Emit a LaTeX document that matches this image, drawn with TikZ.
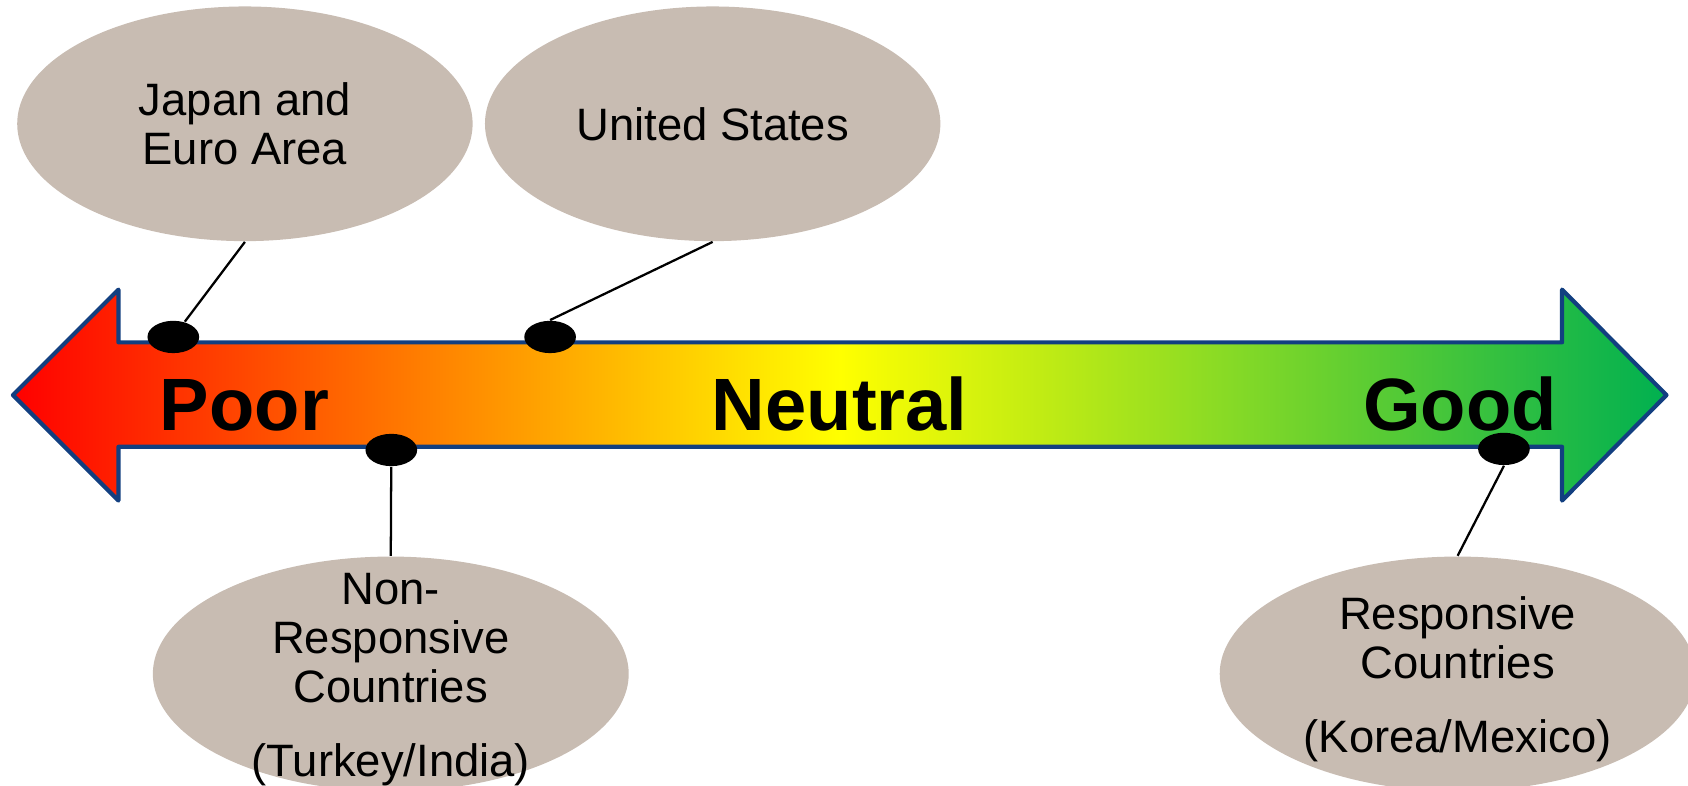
\documentclass[tikz,border=0pt]{standalone}
\usepackage{fontspec}
\setmainfont{Liberation Sans}
\usetikzlibrary{shapes.geometric}
\definecolor{scalegreen}{RGB}{0,176,80}
\definecolor{scaleblue}{RGB}{18,63,128}
\definecolor{bubbletan}{RGB}{200,188,178}

\begin{document}
\begin{tikzpicture}[
    bubble/.style = {ellipse, fill=bubbletan, inner sep=0pt, minimum height=2.18cm},
    bubbletext/.style = {align=center, font=\fontsize{12}{13}\selectfont},
    blob/.style = {ellipse, fill=black, inner sep=0pt, minimum width=0.48cm, minimum height=0.30cm},
    ratinglabel/.style = {anchor=base, font=\fontsize{19.6}{24}\selectfont\bfseries}]
        \useasboundingbox (0, 0) rectangle (15.68, 7.30);
        \clip (0, 0) rectangle (15.68, 7.30);
        \shadedraw[left color=red, right color=scalegreen, middle color=yellow,
            draw=scaleblue, line width=1.1pt, line join=round]
            (0.12, 3.63) -- (1.10, 4.61) -- (1.10, 4.12) -- (14.51, 4.12) -- (14.51, 4.61)
            -- (15.48, 3.63) -- (14.51, 2.65) -- (14.51, 3.15) -- (1.10, 3.15) -- (1.10, 2.65) -- cycle;
        \node[ratinglabel] (poor) at (2.27, 3.30) {Poor};
        \node[ratinglabel] (neutral) at (7.80, 3.30) {Neutral};
        \node[ratinglabel] (good) at (13.56, 3.30) {Good};
        \node[bubble, minimum width=4.23cm] (japan) at (2.275, 6.15) {};
        \node[bubble, minimum width=4.23cm] (us) at (6.62, 6.15) {};
        \node[bubble, minimum width=4.42cm] (nonresp) at (3.63, 1.04) {};
        \node[bubble, minimum width=4.42cm] (resp) at (13.54, 1.04) {};
        \node[bubbletext] (japantext) at (japan) {Japan and\\Euro Area};
        \node[bubbletext] (ustext) at (us) {United States};
        \node[bubbletext] (nonresptext) at ([yshift=-0.05cm]nonresp.center) {Non-\\Responsive\\Countries\\[6.5pt](Turkey/India)};
        \node[bubbletext] (resptext) at ([yshift=-0.05cm]resp.center) {Responsive\\Countries\\[6.5pt](Korea/Mexico)};
        \node[blob] (japandot) at (1.61, 4.17) {};
        \node[blob] (usdot) at (5.11, 4.17) {};
        \node[blob] (nonrespdot) at (3.635, 3.12) {};
        \node[blob] (respdot) at (13.97, 3.13) {};
        \draw[line width=0.6pt] (japan.south) -- (japandot);
        \draw[line width=0.6pt] (us.south) -- (usdot.north);
        \draw[line width=0.6pt] (nonrespdot) -- (nonresp.north);
        \draw[line width=0.6pt] (respdot.south) -- (resp.north);
\end{tikzpicture}
\end{document}
